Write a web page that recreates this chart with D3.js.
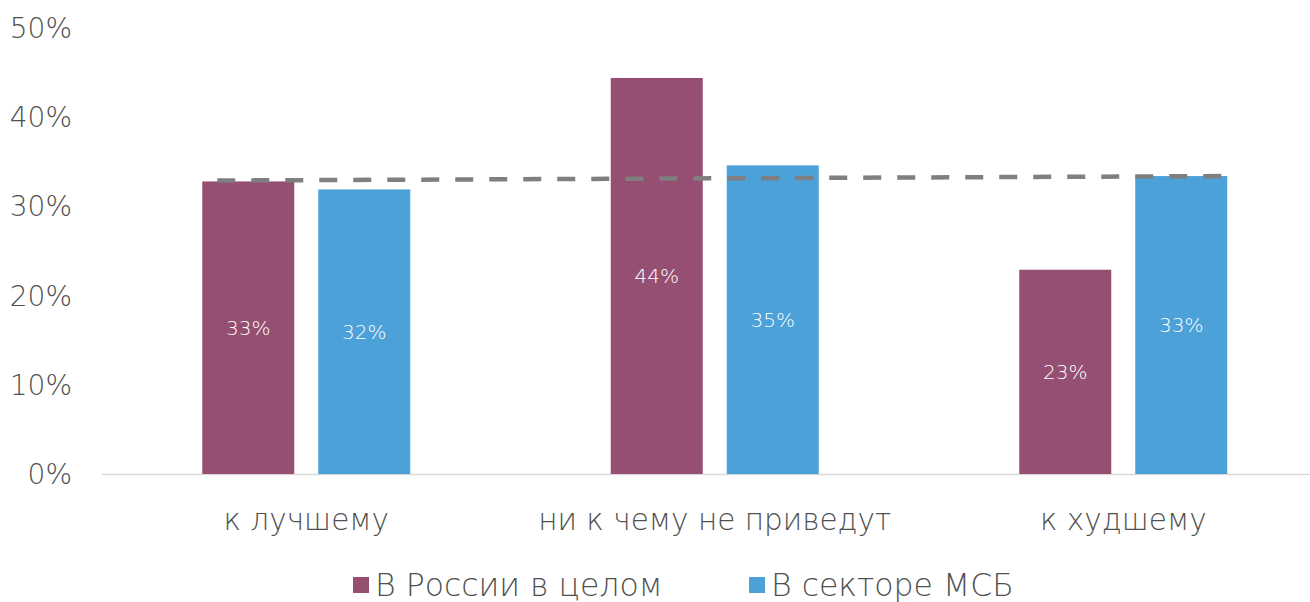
<!DOCTYPE html>
<html>
<head>
<meta charset="utf-8">
<script src="https://cdn.jsdelivr.net/npm/d3@7/dist/d3.min.js"></script>
<style>
  html, body { margin: 0; padding: 0; background: #fff; }
  svg { display: block; }
  text { font-family: "DejaVu Sans", sans-serif; font-weight: 200; }
</style>
</head>
<body>
<svg id="chart" width="1310" height="602"></svg>
<script>
// Оценка последствий: доля ответов по России в целом и в секторе МСБ
const categories = ["к лучшему", "ни к чему не приведут", "к худшему"];
const seriesNames = ["В России в целом", "В секторе МСБ"];
const russiaValues = [32.8, 44.4, 22.9];
const smbValues = [31.9, 34.6, 33.4];
const trendValues = [32.9, 33.4];          // пунктирная линия тренда: начало и конец
const yTicks = [0, 10, 20, 30, 40, 50];
const colors = ["#954F72", "#4BA1D8"];
const textColor = "#505050";

const W = 1310, H = 602;
const margin = { left: 102, top: 28, bottom: 474 };
const groupWidth = 208;
const svg = d3.select("#chart");

const x0 = d3.scaleBand()
  .domain(categories)
  .range([margin.left, margin.left + 3 * 408.5]);

const x1 = d3.scaleBand()
  .domain(seriesNames)
  .range([0, groupWidth])
  .paddingInner(24 / 116);

const y = d3.scaleLinear().domain([0, 50]).range([margin.bottom, margin.top]);

// Подписи оси Y
svg.append("g")
  .selectAll("text")
  .data(yTicks)
  .join("text")
  .attr("x", 72)
  .attr("y", d => y(d))
  .attr("dy", "0.36em")
  .attr("text-anchor", "end")
  .attr("fill", textColor)
  .attr("font-size", 28)
  .text(d => d + "%");

// Ось категорий
svg.append("line")
  .attr("x1", margin.left).attr("x2", W)
  .attr("y1", y(0) + 0.5).attr("y2", y(0) + 0.5)
  .attr("stroke", "#d9d9d9").attr("stroke-width", 1.5);

const rows = categories.map((c, i) => ({
  cat: c,
  vals: [
    { s: seriesNames[0], v: russiaValues[i], c: colors[0] },
    { s: seriesNames[1], v: smbValues[i], c: colors[1] }
  ]
}));

const groupX = c => x0(c) + (x0.bandwidth() - groupWidth) / 2;

const groups = svg.append("g")
  .selectAll("g")
  .data(rows)
  .join("g")
  .attr("transform", d => `translate(${groupX(d.cat)},0)`);

groups.selectAll("rect")
  .data(d => d.vals)
  .join("rect")
  .attr("x", d => x1(d.s))
  .attr("width", x1.bandwidth())
  .attr("y", d => y(d.v))
  .attr("height", d => y(0) - y(d.v))
  .attr("fill", d => d.c);

groups.selectAll("text.val")
  .data(d => d.vals)
  .join("text")
  .attr("class", "val")
  .attr("x", d => x1(d.s) + x1.bandwidth() / 2)
  .attr("y", d => (y(d.v) + y(0)) / 2)
  .attr("dy", "0.36em")
  .attr("text-anchor", "middle")
  .attr("fill", "#ffffff")
  .attr("font-size", 20)
  .text(d => Math.round(d.v) + "%");

// Пунктирная линия тренда
const xt = d3.scaleLinear().domain([0, 1])
  .range([groupX(categories[0]) + 15, groupX(categories[2]) + groupWidth]);
svg.append("path")
  .datum(trendValues)
  .attr("d", d3.line().x((d, i) => xt(i)).y(d => y(d)))
  .attr("fill", "none")
  .attr("stroke", "#7f7f7f")
  .attr("stroke-width", 4.5)
  .attr("stroke-dasharray", "18,16");

// Подписи категорий
svg.append("g")
  .selectAll("text")
  .data(categories)
  .join("text")
  .attr("x", d => x0(d) + x0.bandwidth() / 2)
  .attr("y", 530)
  .attr("text-anchor", "middle")
  .attr("fill", textColor)
  .attr("font-size", 29.5)
  .text(d => d);

// Легенда
const legendX = [353, 749];
const legend = svg.append("g")
  .selectAll("g")
  .data(seriesNames)
  .join("g")
  .attr("transform", (d, i) => `translate(${legendX[i]},577)`);
legend.append("rect")
  .attr("width", 16).attr("height", 16)
  .attr("fill", (d, i) => colors[i]);
legend.append("text")
  .attr("x", 22)
  .attr("y", 8)
  .attr("dy", "0.36em")
  .attr("fill", textColor)
  .attr("font-size", 31.5)
  .text(d => d);
</script>
</body>
</html>
